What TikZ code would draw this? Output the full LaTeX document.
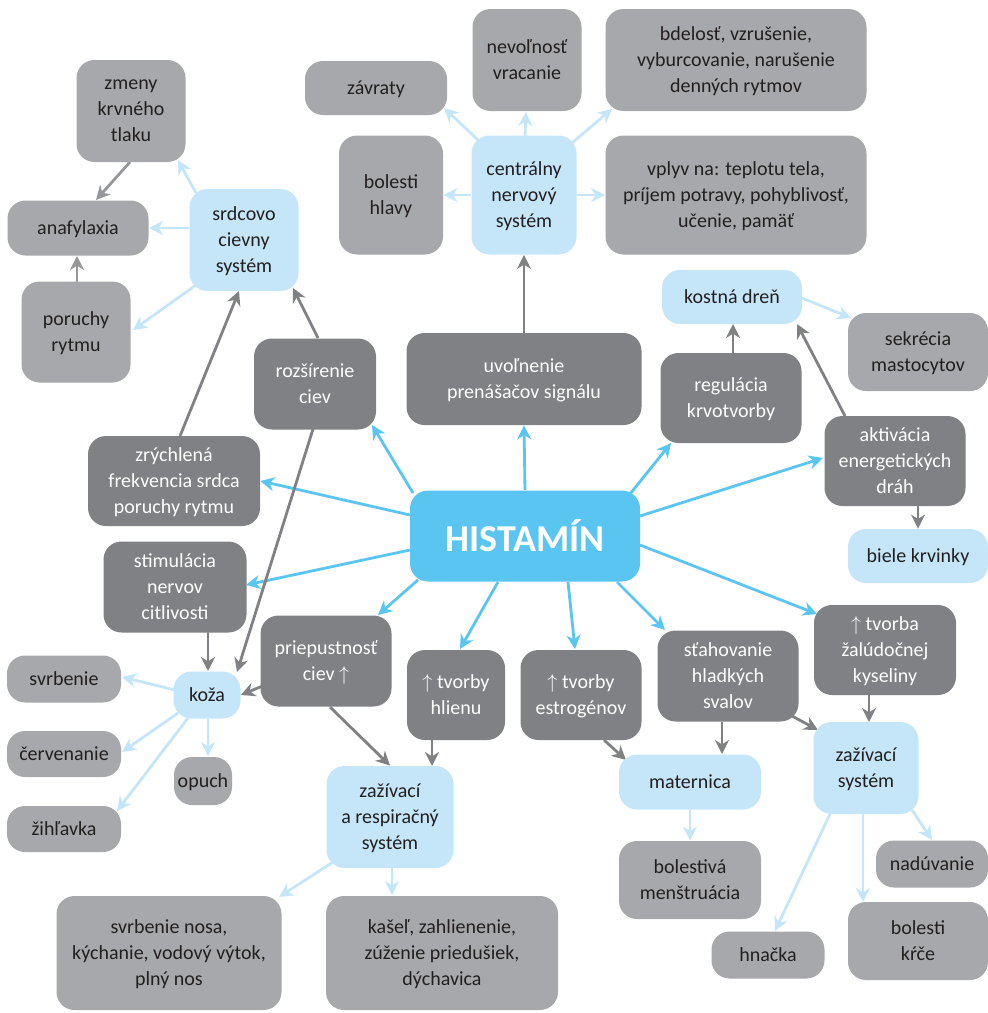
\documentclass[tikz,border=0pt]{standalone}
\usepackage{fontspec}
\setmainfont{Carlito}
\usepackage{xcolor}
\usetikzlibrary{arrows.meta,backgrounds}
\definecolor{histBlue}{HTML}{5BC5F2}
\definecolor{liteBlue}{HTML}{C4E6F8}
\definecolor{darkGray}{HTML}{808184}
\definecolor{paleGray}{HTML}{A7A8AB}
\definecolor{ink}{HTML}{231F20}

\begin{document}
\begin{tikzpicture}[x=0.5pt,y=-0.5pt,
  box/.style={rounded corners=9pt,inner sep=0pt,align=center,text depth=0pt,font=\fontsize{10}{13}\selectfont},
  wh/.style 2 args={minimum width=#1*0.5pt,minimum height=#2*0.5pt},
  lite/.style={box,fill=liteBlue,text=ink},
  dark/.style={box,fill=darkGray,text=white},
  pale/.style={box,fill=paleGray,text=ink},
  arrbase/.style={-{Stealth[length=7pt,width=7pt,inset=2.2pt]},line width=1.4pt},
  harr/.style={arrbase,draw=histBlue},
  larr/.style={arrbase,draw=liteBlue},
  garr/.style={arrbase,draw=darkGray},
  parr/.style={arrbase,draw=paleGray!90!black}]
\useasboundingbox (0,0) rectangle (988,1013);
% centre
\node[box,fill=histBlue,text=white,wh={230}{91},font=\fontsize{19}{22}\selectfont\bfseries] (hist) at (525,536) {HISTAMÍN};
% heart and vessels
\node[pale,wh={109}{102}] (zmeny) at (131,111) {zmeny\\krvného\\tlaku};
\node[pale,wh={141}{55}] (anaf) at (78,228) {anafylaxia};
\node[lite,wh={109}{102}] (srdc) at (244,240) {srdcovo\\cievny\\systém};
\node[pale,wh={109}{101}] (poru) at (76,332) {poruchy\\rytmu};
\node[dark,wh={122}{91}] (rozs) at (315,384) {rozšírenie\\ciev};
\node[dark,wh={172}{90}] (zrych) at (174,481) {zrýchlená\\frekvencia srdca\\poruchy rytmu};
\node[dark,wh={143}{91}] (stim) at (175,587) {stimulácia\\nervov\\citlivosti};
% nervous system
\node[pale,wh={142}{54}] (zavr) at (376,88) {závraty};
\node[pale,wh={109}{102}] (nevol) at (527,60) {nevoľnosť\\vracanie};
\node[pale,wh={261}{102}] (bdel) at (736,60) {bdelosť, vzrušenie,\\vyburcovanie, narušenie\\denných rytmov};
\node[pale,wh={104}{119}] (bolh) at (391,195) {bolesti\\hlavy};
\node[lite,wh={105}{119}] (cns) at (524,195) {centrálny\\nervový\\systém};
\node[pale,wh={261}{119}] (vplyv) at (736,195) {vplyv na: teplotu tela,\\príjem potravy, pohyblivosť,\\učenie, pamäť};
\node[dark,wh={235}{92}] (uvol) at (524,379) {uvoľnenie\\prenášačov signálu};
% bone marrow
\node[lite,wh={140}{54}] (kost) at (732,297) {kostná dreň};
\node[pale,wh={140}{78}] (sekr) at (918,352) {sekrécia\\mastocytov};
\node[dark,wh={141}{90}] (regul) at (731,398) {regulácia\\krvotvorby};
\node[dark,wh={141}{90}] (aktiv) at (895,461) {aktivácia\\energetických\\dráh};
\node[lite,wh={140}{54}] (biele) at (918,556) {biele krvinky};
% skin
\node[lite,wh={67}{47}] (koza) at (207,695) {koža};
\node[pale,wh={114}{47}] (svrb) at (64,679) {svrbenie};
\node[pale,wh={114}{46}] (cerv) at (64,754) {červenanie};
\node[pale,wh={114}{46}] (zihl) at (64,829) {žihľavka};
\node[pale,wh={58}{48}] (opuch) at (203,781) {opuch};
% digestive and respiratory
\node[dark,wh={131}{91}] (prie) at (326,661) {priepustnosť\\ciev $\uparrow$};
\node[dark,wh={98}{90}] (hlien) at (456,695) {$\uparrow$ tvorby\\hlienu};
\node[dark,wh={121}{90}] (estr) at (581,695) {$\uparrow$ tvorby\\estrogénov};
\node[lite,wh={127}{102}] (zaresp) at (390,817) {zažívací\\a respiračný\\systém};
\node[pale,wh={225}{114}] (nosa) at (169,953) {svrbenie nosa,\\kýchanie, vodový výtok,\\plný nos};
\node[pale,wh={232}{114}] (kasel) at (442,953) {kašeľ, zahlienenie,\\zúženie priedušiek,\\dýchavica};
\node[dark,wh={141}{91}] (stah) at (728,676) {sťahovanie\\hladkých\\svalov};
\node[dark,wh={142}{90}] (kysel) at (885,650) {$\uparrow$ tvorba\\žalúdočnej\\kyseliny};
\node[lite,wh={142}{55}] (mater) at (690,782) {maternica};
\node[lite,wh={105}{92}] (zazsys) at (866,768) {zažívací\\systém};
\node[pale,wh={142}{78}] (bolmen) at (690,880) {bolestivá\\menštruácia};
\node[pale,wh={112}{47}] (nadu) at (932,864) {nadúvanie};
\node[pale,wh={140}{78}] (krce) at (918,941) {bolesti\\kŕče};
\node[pale,wh={113}{47}] (hnac) at (768,955) {hnačka};
\begin{scope}[on background layer]
% from histamine
\draw[harr] (hist.north) -- (uvol.south);
\draw[harr] ([shift={(-112,-43)}]hist.center) -- ([shift={(57,41)}]rozs.center);
\draw[harr] ([shift={(-115,-21)}]hist.center) -- (zrych.east);
\draw[harr] ([shift={(-115,14)}]hist.center) -- ([shift={(71,-2)}]stim.center);
\draw[harr] ([shift={(-107,44)}]hist.center) -- ([shift={(52,-46)}]prie.center);
\draw[harr] ([shift={(-27,46)}]hist.center) -- ([shift={(4,-46)}]hlien.center);
\draw[harr] ([shift={(43,46)}]hist.center) -- ([shift={(-6,-46)}]estr.center);
\draw[harr] ([shift={(92,46)}]hist.center) -- ([shift={(-63,-46)}]stah.center);
\draw[harr] ([shift={(115,9)}]hist.center) -- ([shift={(-68,-36)}]kysel.center);
\draw[harr] ([shift={(115,-20)}]hist.center) -- ([shift={(-72,-3)}]aktiv.center);
\draw[harr] ([shift={(105,-42)}]hist.center) -- ([shift={(-60,45)}]regul.center);
% effects
\draw[garr] (uvol.north) -- (cns.south);
\draw[garr] ([shift={(3,-46)}]rozs.center) -- ([shift={(49,48)}]srdc.center);
\draw[garr] ([shift={(6,-45)}]zrych.center) -- ([shift={(-5,51)}]srdc.center);
\draw[garr] ([shift={(-2,45)}]rozs.center) -- ([shift={(30,-23)}]koza.center);
\draw[garr] ([shift={(33,45)}]stim.center) -- ([shift={(1,-24)}]koza.center);
\draw[garr] ([shift={(-61,24)}]prie.center) -- (koza.east);
\draw[garr] ([shift={(4,46)}]prie.center) -- (zaresp.north);
\draw[garr] ([shift={(-24,45)}]hlien.center) -- ([shift={(42,-51)}]zaresp.center);
\draw[garr] ([shift={(23,45)}]estr.center) -- ([shift={(-64,-22)}]mater.center);
\draw[garr] ([shift={(-6,46)}]stah.center) -- ([shift={(32,-28)}]mater.center);
\draw[garr] ([shift={(64,40)}]stah.center) -- ([shift={(-48,-38)}]zazsys.center);
\draw[garr] ([shift={(-16,45)}]kysel.center) -- ([shift={(3,-46)}]zazsys.center);
\draw[garr] ([shift={(2,-45)}]regul.center) -- ([shift={(1,27)}]kost.center);
\draw[garr] ([shift={(-50,-45)}]aktiv.center) -- ([shift={(65,27)}]kost.center);
\draw[garr] ([shift={(23,45)}]aktiv.center) -- (biele.north);
\draw[parr] ([shift={(-1,51)}]zmeny.center) -- ([shift={(18,-28)}]anaf.center);
\draw[parr] ([shift={(1,-50)}]poru.center) -- ([shift={(-1,28)}]anaf.center);
% symptoms
\draw[larr] ([shift={(-48,-47)}]srdc.center) -- ([shift={(47,49)}]zmeny.center);
\draw[larr] ([shift={(-55,-12)}]srdc.center) -- ([shift={(71,0)}]anaf.center);
\draw[larr] ([shift={(-48,45)}]srdc.center) -- ([shift={(57,-2)}]poru.center);
\draw[larr] ([shift={(-46,-55)}]cns.center) -- ([shift={(68,20)}]zavr.center);
\draw[larr] ([shift={(1,-59)}]cns.center) -- ([shift={(-1,52)}]nevol.center);
\draw[larr] ([shift={(48,-52)}]cns.center) -- ([shift={(-124,49)}]bdel.center);
\draw[larr] (cns.west) -- (bolh.east);
\draw[larr] (cns.east) -- (vplyv.west);
\draw[larr] ([shift={(70,1)}]kost.center) -- ([shift={(-67,-34)}]sekr.center);
\draw[larr] ([shift={(-32,-5)}]koza.center) -- ([shift={(58,-2)}]svrb.center);
\draw[larr] ([shift={(-29,18)}]koza.center) -- ([shift={(58,-2)}]cerv.center);
\draw[larr] ([shift={(-19,23)}]koza.center) -- ([shift={(53,-18)}]zihl.center);
\draw[larr] ([shift={(1,24)}]koza.center) -- ([shift={(5,-25)}]opuch.center);
\draw[larr] ([shift={(-57,45)}]zaresp.center) -- ([shift={(110,-56)}]nosa.center);
\draw[larr] ([shift={(2,51)}]zaresp.center) -- ([shift={(-50,-58)}]kasel.center);
\draw[larr] (mater.south) -- (bolmen.north);
\draw[larr] ([shift={(-36,46)}]zazsys.center) -- ([shift={(7,-24)}]hnac.center);
\draw[larr] ([shift={(-3,46)}]zazsys.center) -- ([shift={(-55,-39)}]krce.center);
\draw[larr] ([shift={(46,42)}]zazsys.center) -- ([shift={(0,-24)}]nadu.center);
\end{scope}
\end{tikzpicture}
\end{document}
